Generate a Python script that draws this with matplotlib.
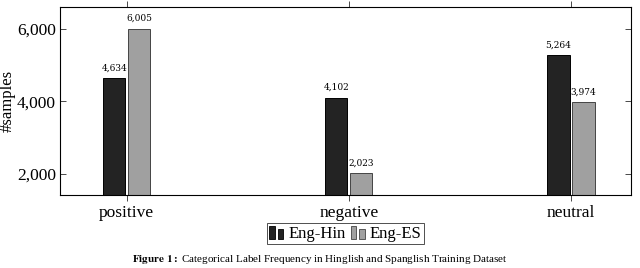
import matplotlib
matplotlib.use("Agg")
import matplotlib.pyplot as plt
import numpy as np
from matplotlib.legend_handler import HandlerBase
from matplotlib.patches import Rectangle

plt.rcParams['font.family'] = ['Liberation Serif', 'DejaVu Serif']
plt.rcParams['mathtext.fontset'] = 'stix'

categories = ['positive', 'negative', 'neutral']
series = ['Eng-Hin', 'Eng-ES']
eng_hin = [4634, 4102, 5264]
eng_es = [6005, 2023, 3974]
yticks = [2000, 4000, 6000]

face = ['#232323', '#a0a0a0']
edge = ['#000000', '#444444']


class TwoBars(HandlerBase):
    # pgfplots style ybar legend: two little bars
    def create_artists(self, legend, orig, xd, yd, w, h, fontsize, trans):
        fc, ec = orig.get_facecolor(), orig.get_edgecolor()
        bw = w * 0.38
        r1 = Rectangle((xd, yd - h * 0.1), bw, h * 1.1, facecolor=fc, edgecolor=ec,
                       lw=0.6, transform=trans)
        r2 = Rectangle((xd + w * 0.55, yd - h * 0.1), bw, h * 0.85, facecolor=fc,
                       edgecolor=ec, lw=0.6, transform=trans)
        return [r1, r2]


fig = plt.figure(figsize=(6.4, 2.68), dpi=100)
ax = fig.add_axes([60 / 640, 1 - 195 / 268, 571 / 640, 188 / 268])

x = np.arange(len(categories))
w = 0.1
off = 0.056
handles = []
for vals, dx, fc, ec, name in [(eng_hin, -off, face[0], edge[0], series[0]),
                               (eng_es, off, face[1], edge[1], series[1])]:
    bars = ax.bar(x + dx, vals, width=w, color=fc, edgecolor=ec, linewidth=0.7,
                  label=name)
    handles.append(bars[0])
    for b, v in zip(bars, vals):
        ax.text(b.get_x() + b.get_width() / 2, v + 160, f"{v:,}", ha='center',
                va='bottom', fontsize=6.5, family=['DejaVu Serif'])

ax.set_xlim(-0.3, 2.27)
ax.set_ylim(1420, 6600)
ax.set_xticks(x)
ax.set_xticklabels(categories, fontsize=12.5)
ax.set_yticks(yticks)
ax.set_yticklabels([f"{t:,}" for t in yticks], fontsize=12.5)
ax.tick_params(axis='x', direction='out', length=4, width=0.5, top=True, pad=3)
ax.tick_params(axis='y', direction='in', length=4, width=0.5, right=True, pad=3)
ax.set_ylabel('#samples', fontsize=12, labelpad=1)
for s in ax.spines.values():
    s.set_linewidth(0.8)

leg = ax.legend(handles, series, loc='upper center', bbox_to_anchor=(0.5, -0.15),
                ncol=2, fontsize=12, frameon=True, fancybox=False,
                handler_map={h: TwoBars() for h in handles},
                handlelength=0.9, handletextpad=0.25, columnspacing=0.3,
                borderpad=0.15, borderaxespad=0)
leg.get_frame().set_edgecolor('black')
leg.get_frame().set_linewidth(0.6)

fig.text(0.5, 1 - 253 / 268,
         r"$\mathbf{Figure\ 1:}$ Categorical Label Frequency in Hinglish and Spanglish Training Dataset",
         ha='center', va='top', fontsize=8)

fig.savefig('out.png', dpi=100)
